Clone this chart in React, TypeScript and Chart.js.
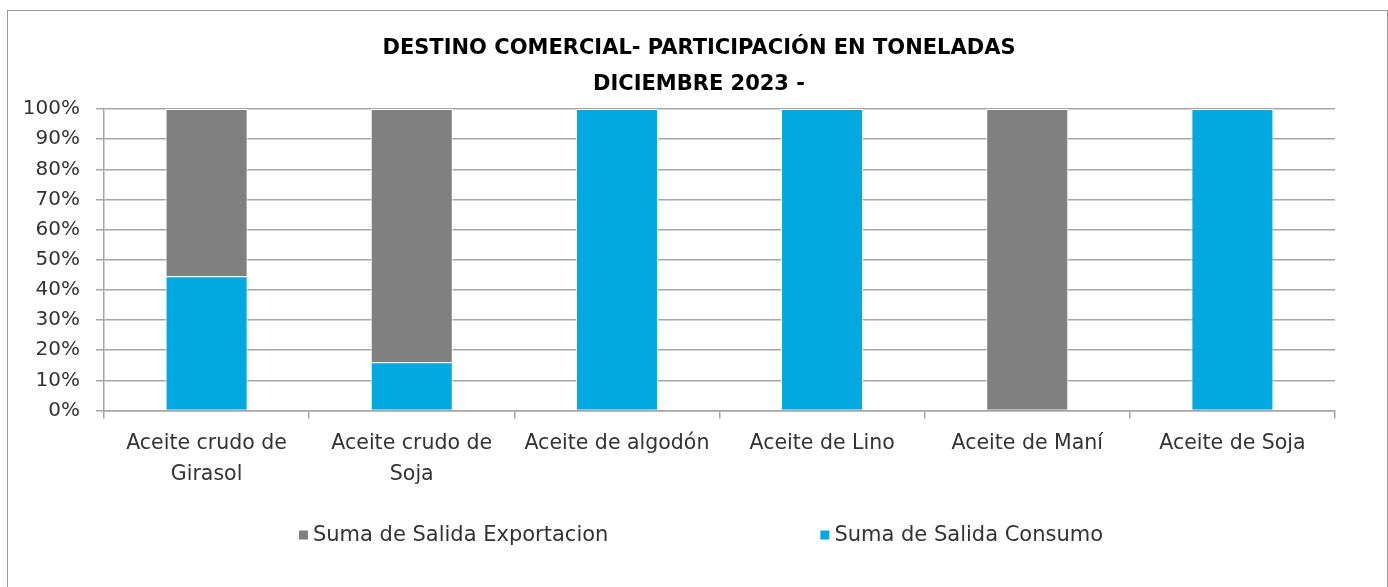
import React, { useEffect, useRef } from "react";
import { Chart, registerables } from "chart.js";

Chart.register(...registerables);

const categories: (string | string[])[] = [
  ["Aceite crudo de", "Girasol"],
  ["Aceite crudo de", "Soja"],
  "Aceite de algodón",
  "Aceite de Lino",
  "Aceite de Maní",
  "Aceite de Soja",
];
const exportacion = [55.5, 84, 0, 0, 100, 0];
const consumo = [44.5, 16, 100, 100, 0, 100];
const titleLines = ["DESTINO COMERCIAL- PARTICIPACIÓN EN TONELADAS", "DICIEMBRE 2023 -"];
const seriesNames = ["Suma de Salida Exportacion", "Suma de Salida Consumo"];
const GREY = "#808080";
const BLUE = "#00A9E0";
const FONT = "'DejaVu Sans', sans-serif";
const TEXT = "#333333";
const GRID = "#a6a6a6";

const titlePlugin = {
  id: "customTitle",
  afterDraw(chart: any) {
    const ctx = chart.ctx as CanvasRenderingContext2D;
    ctx.save();
    ctx.font = `bold 21px ${FONT}`;
    ctx.fillStyle = "#000000";
    ctx.textAlign = "center";
    ctx.textBaseline = "middle";
    ctx.fillText(titleLines[0], 699, 49);
    ctx.fillText(titleLines[1], 699, 85);
    ctx.restore();
  },
};

const legendPlugin = {
  id: "customLegend",
  afterDraw(chart: any) {
    const ctx = chart.ctx as CanvasRenderingContext2D;
    const items = [
      { label: seriesNames[0], color: GREY },
      { label: seriesNames[1], color: BLUE },
    ];
    ctx.save();
    ctx.font = `21px ${FONT}`;
    ctx.textBaseline = "middle";
    const box = 9;
    const gap = 5;
    const spacing = 212;
    const widths = items.map((it) => box + gap + ctx.measureText(it.label).width);
    const total = widths.reduce((a, b) => a + b, 0) + spacing * (items.length - 1);
    let x = 701 - total / 2;
    const y = 535;
    items.forEach((it, i) => {
      ctx.fillStyle = it.color;
      ctx.fillRect(x, y - box / 2, box, box);
      ctx.fillStyle = TEXT;
      ctx.fillText(it.label, x + box + gap, y + 1);
      x += widths[i] + spacing;
    });
    ctx.restore();
  },
};

export default function App() {
  const ref = useRef<HTMLCanvasElement | null>(null);
  useEffect(() => {
    if (!ref.current) return;
    const chart = new Chart(ref.current, {
      type: "bar",
      data: {
        labels: categories as any,
        datasets: [
          {
            label: seriesNames[1],
            data: consumo,
            backgroundColor: BLUE,
            borderColor: "#ffffff",
            borderWidth: 1,
            barPercentage: 0.4,
            categoryPercentage: 1,
          },
          {
            label: seriesNames[0],
            data: exportacion,
            backgroundColor: GREY,
            borderColor: "#ffffff",
            borderWidth: 1,
            barPercentage: 0.4,
            categoryPercentage: 1,
          },
        ],
      },
      options: {
        responsive: false,
        animation: false,
        layout: { padding: { left: 0, right: 53, top: 109, bottom: 87 } },
        plugins: {
          legend: { display: false },
          tooltip: { enabled: false },
          title: { display: false },
        },
        scales: {
          x: {
            stacked: true,
            offset: true,
            grid: {
              offset: true,
              drawOnChartArea: false,
              drawTicks: true,
              tickLength: 8,
              color: GRID,
              lineWidth: 1.5,
            },
            border: { display: true, color: GRID, width: 1.5 },
            ticks: {
              color: TEXT,
              padding: 10,
              maxRotation: 0,
              autoSkip: false,
              font: { family: FONT, size: 20.5, lineHeight: 1.5 },
            },
          },
          y: {
            stacked: true,
            min: 0,
            max: 100,
            afterFit: (s: any) => {
              s.width = 104;
            },
            grid: { color: GRID, tickLength: 8, drawTicks: true, lineWidth: 1.5 },
            border: { display: true, color: GRID, width: 1.5 },
            ticks: {
              stepSize: 10,
              color: TEXT,
              padding: 16,
              font: { family: FONT, size: 20 },
              callback: (v: any) => `${v}%`,
            },
          },
        },
      },
      plugins: [titlePlugin, legendPlugin],
    });
    return () => chart.destroy();
  }, []);

  return (
    <div style={{ position: "fixed", left: 0, top: 0, width: 1388, height: 587, background: "#fff", overflow: "hidden" }}>
      <canvas ref={ref} width={1388} height={587} style={{ position: "absolute", left: 0, top: 0 }} />
      <div
        style={{
          position: "absolute",
          left: 7,
          top: 10,
          width: 1379,
          height: 620,
          border: "1px solid #9a9a9a",
          pointerEvents: "none",
        }}
      />
    </div>
  );
}
